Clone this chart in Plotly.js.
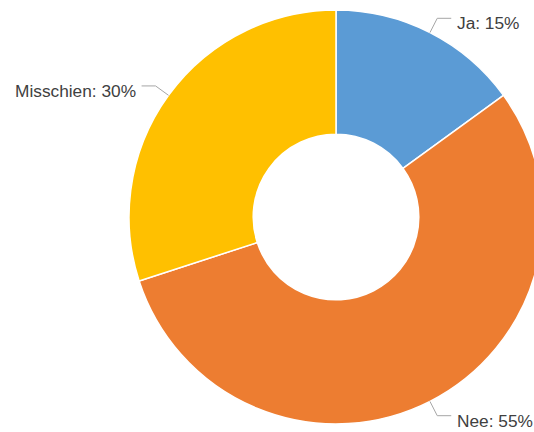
<!DOCTYPE html>
<html>
<head>
<meta charset="utf-8">
<script src="https://cdn.plot.ly/plotly-3.0.1.min.js"></script>
<style>
html,body{margin:0;padding:0;overflow:hidden;background:#fff;width:534px;height:432px;}
#chart{width:700px;height:432px;}
</style>
</head>
<body>
<div id="chart"></div>
<script>
const categories = ["Ja", "Nee", "Misschien"];
const values = [15, 55, 30];
const colors = ["#5B9BD5", "#ED7D31", "#FFC000"];

const W = 700, H = 432;
const margin = {l: 129, r: 157, t: 10, b: 8};
const pw = W - margin.l - margin.r, ph = H - margin.t - margin.b;
const R = Math.min(pw, ph) / 2;
const cx = margin.l + pw / 2, cy = margin.t + ph / 2;
const toPx = (px) => (px - margin.l) / pw;
const toPy = (py) => 1 - (py - margin.t) / ph;

const total = values.reduce((a, b) => a + b, 0);
const shapes = [], annotations = [];
let acc = 0;
values.forEach((v, i) => {
  const mid = (acc + v / 2) / total * 2 * Math.PI;
  acc += v;
  const s = Math.sin(mid), c = Math.cos(mid);
  const x0 = cx + R * s, y0 = cy - R * c;
  const x1 = cx + (R + 16) * s, y1 = cy - (R + 16) * c;
  const dir = s >= 0 ? 1 : -1;
  const x2 = x1 + dir * 14;
  const path = `M${toPx(x0)},${toPy(y0)} L${toPx(x1)},${toPy(y1)} L${toPx(x2)},${toPy(y1)}`;
  shapes.push({type: "path", xref: "paper", yref: "paper", path: path,
    line: {color: "#A6A6A6", width: 1}});
  annotations.push({xref: "paper", yref: "paper", x: toPx(x2 + dir * 4), y: toPy(y1 + 5),
    xanchor: dir > 0 ? "left" : "right", yanchor: "middle", showarrow: false,
    text: `${categories[i]}: ${Math.round(v / total * 100)}%`,
    font: {family: "Liberation Sans, Arial, sans-serif", size: 17.3, color: "#404040"}});
});

const data = [{
  type: "pie",
  labels: categories,
  values: values,
  marker: {colors: colors, line: {color: "#FFFFFF", width: 1.5}},
  hole: 0.4,
  sort: false,
  direction: "clockwise",
  rotation: 0,
  textinfo: "none",
  hoverinfo: "label+percent",
  showlegend: false
}];

const layout = {
  width: W, height: H,
  margin: margin,
  paper_bgcolor: "#FFFFFF",
  plot_bgcolor: "#FFFFFF",
  showlegend: false,
  shapes: shapes,
  annotations: annotations
};

Plotly.newPlot("chart", data, layout, {displayModeBar: false, staticPlot: true});
</script>
</body>
</html>
